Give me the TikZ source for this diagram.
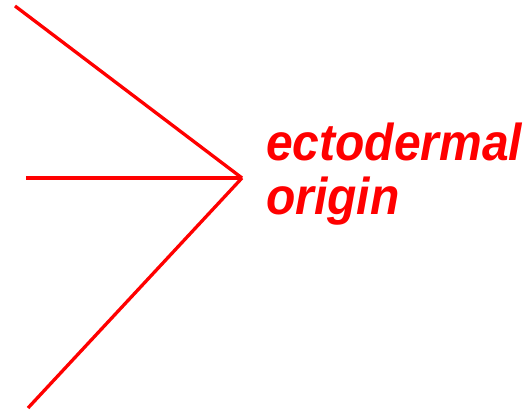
\documentclass[tikz,border=0pt]{standalone}
\usepackage{fontspec}
\setmainfont{Liberation Sans}
\begin{document}
\begin{tikzpicture}[x=1pt,y=-1pt,
  ray/.style={draw=red,line width=3.3pt},
  lbl/.style={text=red,font=\fontsize{48}{48}\selectfont\bfseries\itshape,inner sep=0pt,anchor=base west}]
\useasboundingbox (0,0) rectangle (531,411);
\coordinate (c) at (242,178);
\coordinate (a1) at (15,6);
\coordinate (a2) at (26,178);
\coordinate (a3) at (28,408);
\draw[ray] (a1) -- (c);
\draw[ray] (a2) -- (c);
\draw[ray] (a3) -- (c);
\node[lbl] (t1) at (266,161) {\scalebox{1}[1.08]{ectodermal}};
\node[lbl] (t2) at (266,215) {\scalebox{1}[1.08]{origin}};
\end{tikzpicture}
\end{document}
